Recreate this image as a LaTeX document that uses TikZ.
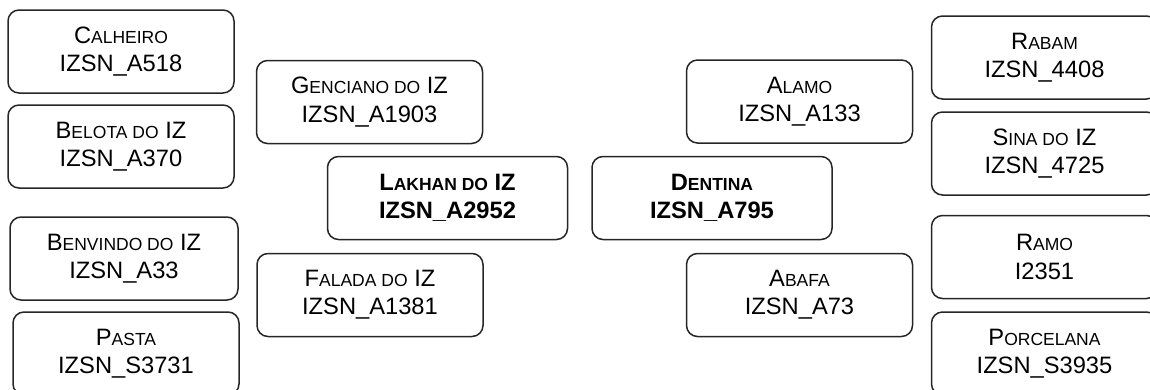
\documentclass[tikz,border=0pt]{standalone}
\usepackage{fontspec}
\setmainfont{Liberation Sans}
\usetikzlibrary{positioning}
\newcommand{\smc}[1]{{\fontsize{17.5}{28.3}\selectfont #1}}
\tikzset{
  catbox/.style={draw=black!85, line width=1.5pt, rounded corners=11pt, minimum width=226pt, minimum height=83pt, inner sep=2pt, align=center, font=\fontsize{23.7}{28.3}\selectfont},
  mainbox/.style={catbox, minimum width=240pt, font=\fontsize{23.7}{28.3}\selectfont\bfseries},
}

\begin{document}
\begin{tikzpicture}[x=1pt, y=-1pt]
  \useasboundingbox (0,0) rectangle (1150,389);
  \clip (0,0) rectangle (1150,389);
  % left column
  \node[catbox] (cal) at (121,51.5) {C\smc{ALHEIRO}\\IZSN\_A518};
  \node[catbox] (bel) at (121,146.5) {B\smc{ELOTA DO} IZ\\IZSN\_A370};
  \node[catbox, minimum width=228pt] (ben) at (124,258.5) {B\smc{ENVINDO DO} IZ\\IZSN\_A33};
  \node[catbox] (pas) at (126,353.5) {P\smc{ASTA}\\IZSN\_S3731};
  % inner left
  \node[catbox] (gen) at (369.5,102) {G\smc{ENCIANO DO} IZ\\IZSN\_A1903};
  \node[mainbox] (lak) at (447.5,198) {L\smc{AKHAN DO} IZ\\IZSN\_A2952};
  \node[catbox] (fal) at (370,295) {F\smc{ALADA DO} IZ\\IZSN\_A1381};
  % inner right
  \node[mainbox] (den) at (712,198) {D\smc{ENTINA}\\IZSN\_A795};
  \node[catbox] (ala) at (799.5,101.5) {A\smc{LAMO}\\IZSN\_A133};
  \node[catbox] (aba) at (799.5,295) {A\smc{BAFA}\\IZSN\_A73};
  % right column
  \node[catbox] (rab) at (1044.5,57.5) {R\smc{ABAM}\\IZSN\_4408};
  \node[catbox] (sin) at (1044.5,153.5) {S\smc{INA DO} IZ\\IZSN\_4725};
  \node[catbox] (ram) at (1044.5,257) {R\smc{AMO}\\I2351};
  \node[catbox] (por) at (1044.5,353.5) {P\smc{ORCELANA}\\IZSN\_S3935};
\end{tikzpicture}
\end{document}
